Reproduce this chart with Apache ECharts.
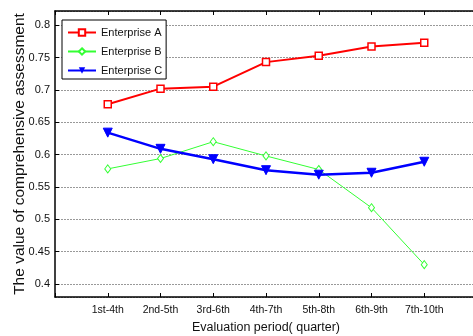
<!DOCTYPE html>
<html>
<head>
<meta charset="utf-8">
<script src="https://cdn.jsdelivr.net/npm/echarts@6/dist/echarts.min.js"></script>
<style>
  html, body { margin: 0; padding: 0; background: #fff; }
  #main { width: 473px; height: 336px; }
</style>
</head>
<body>
<div id="main"></div>
<script>
var periods = ['1st-4th', '2nd-5th', '3rd-6th', '4th-7th', '5th-8th', '6th-9th', '7th-10th'];
var enterpriseA = [0.678, 0.702, 0.705, 0.743, 0.753, 0.767, 0.773];
var enterpriseB = [0.578, 0.594, 0.620, 0.598, 0.577, 0.518, 0.430];
var enterpriseC = [0.634, 0.609, 0.593, 0.576, 0.569, 0.572, 0.589];

function toPoints(arr) {
  return arr.map(function (v, i) { return [i + 1, v]; });
}

var font = 'Liberation Sans, Arial, sans-serif';
var chart = echarts.init(document.getElementById('main'));

var option = {
  animation: false,
  textStyle: { fontFamily: font },
  grid: { left: 55, top: 11, right: -4, bottom: 39, outerBoundsMode: 'none' },
  legend: {
    orient: 'vertical',
    left: 62,
    top: 20,
    padding: [7, 4, 3, 5],
    itemGap: 8,
    itemWidth: 28,
    itemHeight: 8,
    borderColor: '#000',
    borderWidth: 1,
    backgroundColor: '#fff',
    textStyle: { fontSize: 11, color: '#111', fontFamily: font },
    data: ['Enterprise A', 'Enterprise B', 'Enterprise C']
  },
  xAxis: [{
    type: 'value',
    min: 0,
    max: 8,
    interval: 1,
    name: 'Evaluation period( quarter)',
    nameLocation: 'middle',
    nameGap: 24,
    nameMoveOverlap: false,
    nameTextStyle: { fontSize: 12.5, color: '#111' },
    axisLine: { lineStyle: { color: '#000', width: 1.5 } },
    axisTick: { inside: true, length: 4, lineStyle: { color: '#000' } },
    axisLabel: {
      fontSize: 10.5, color: '#111', margin: 8,
      formatter: function (v) { return periods[v - 1] || ''; }
    },
    splitLine: { show: false }
  }, {
    type: 'value',
    position: 'top',
    min: 0,
    max: 8,
    interval: 1,
    axisLine: { show: true, lineStyle: { color: '#000', width: 1.5 } },
    axisTick: { inside: true, length: 4, lineStyle: { color: '#000' } },
    axisLabel: { show: false },
    splitLine: { show: false }
  }],
  yAxis: {
    type: 'value',
    min: 0.38,
    max: 0.822,
    splitNumber: 9,
    name: 'The value of comprehensive assessment',
    nameLocation: 'middle',
    nameGap: 27,
    nameMoveOverlap: false,
    nameTextStyle: { fontSize: 15.5, color: '#111' },
    axisLine: { show: true, lineStyle: { color: '#000', width: 1.5 } },
    axisTick: { show: true, inside: true, length: 4, lineStyle: { color: '#000' } },
    axisLabel: {
      fontSize: 11, color: '#111', margin: 5,
      showMinLabel: false, showMaxLabel: false,
      formatter: function (v) { return String(+v.toFixed(2)); }
    },
    splitLine: { show: true, lineStyle: { color: '#999', type: [2, 1], width: 1 } }
  },
  series: [{
    name: 'Enterprise A',
    type: 'line',
    data: toPoints(enterpriseA),
    symbol: 'rect',
    symbolSize: 7,
    lineStyle: { color: '#ff0000', width: 2 },
    itemStyle: { color: '#fff', borderColor: '#ff0000', borderWidth: 1.5 }
  }, {
    name: 'Enterprise B',
    type: 'line',
    data: toPoints(enterpriseB),
    symbol: 'diamond',
    symbolSize: [6, 8],
    lineStyle: { color: '#33ff33', width: 1 },
    itemStyle: { color: '#fff', borderColor: '#33ff33', borderWidth: 1 }
  }, {
    name: 'Enterprise C',
    type: 'line',
    data: toPoints(enterpriseC),
    symbol: 'triangle',
    symbolRotate: 180,
    symbolSize: 9,
    lineStyle: { color: '#0000ff', width: 2.5 },
    itemStyle: { color: '#0000ff', borderColor: '#0000ff' }
  }]
};

chart.setOption(option);
</script>
</body>
</html>
